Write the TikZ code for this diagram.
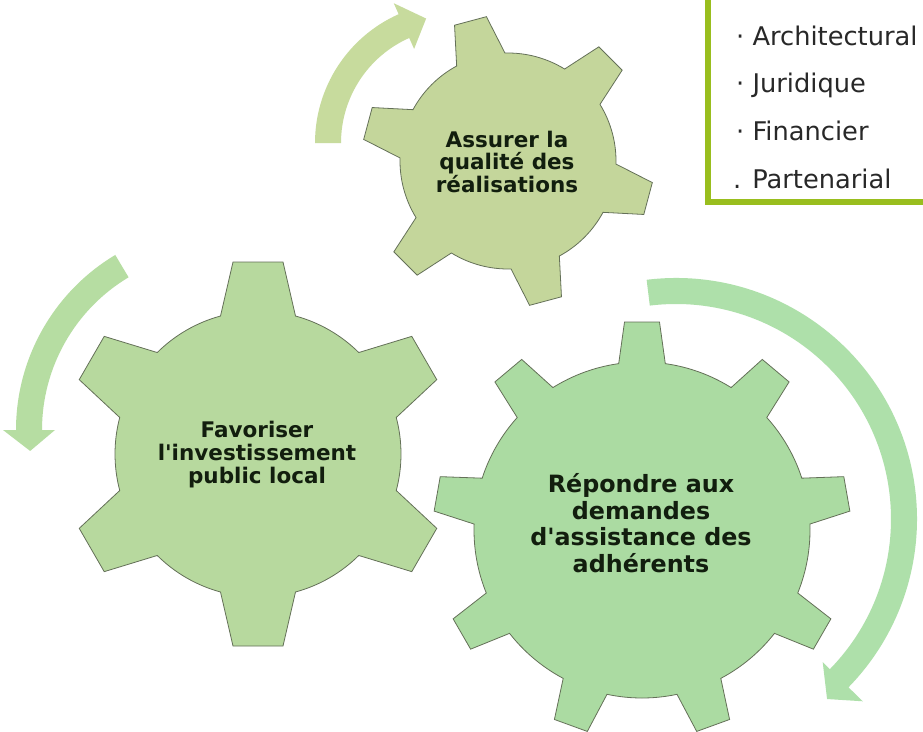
\documentclass[tikz,border=0pt]{standalone}
\usepackage{fontspec}
\newfontfamily\dvs{DejaVu Sans}
\definecolor{topgear}{RGB}{196,214,155}
\definecolor{leftgear}{RGB}{183,217,158}
\definecolor{biggear}{RGB}{171,219,162}
\definecolor{toparrow}{RGB}{199,219,157}
\definecolor{leftarrow}{RGB}{182,221,162}
\definecolor{rightarrow}{RGB}{174,224,170}
\definecolor{gearline}{RGB}{100,112,88}
\definecolor{gtext}{RGB}{18,30,14}
\definecolor{boxgreen}{RGB}{153,190,30}

\newcommand{\mygear}[9]{%
  \pgfmathsetmacro{\gstep}{360/#4}%
  \pgfmathtruncatemacro{\gnm}{#4-1}%
  \pgfmathsetmacro{\gdt}{atan(#8/#6)}%
  \pgfmathsetmacro{\gRt}{veclen(#6,#8)}%
  \pgfmathsetmacro{\gdb}{asin(#9/#7)}%
  \filldraw[gearshape, fill=#1, shift={(#2,#3)}]
    ({#5-\gdb}:#7pt)
    \foreach \k [evaluate=\k as \ga using {#5+\k*\gstep}] in {0,...,\gnm} {
      -- ({\ga-\gdt}:\gRt pt) -- ({\ga+\gdt}:\gRt pt) -- ({\ga+\gdb}:#7pt)
      arc[start angle={\ga+\gdb}, end angle={\ga+\gstep-\gdb}, radius=#7pt]
    } -- cycle;%
}

\begin{document}
\begin{tikzpicture}[x=1pt,y=1pt,
  gearshape/.style={draw=gearline, line width=0.8pt, line join=miter},
  geartext/.style={text=gtext, align=center, inner sep=0pt},
  boxtext/.style={font={\dvs\fontsize{25.7}{30}\selectfont}, text={rgb,255:red,40;green,40;blue,40}, anchor=base west, inner sep=0pt},
  boxline/.style={draw=boxgreen, line width=5.5pt}]
\useasboundingbox (0,0) rectangle (923,-731);
\fill[white] (0,0) rectangle (923,-731);

% rotation arrows
\begin{scope}[shift={(456,-143)}]
  \fill[toparrow] (180:141pt) arc[start angle=180, end angle=114, radius=141pt]
    -- (114:153pt) -- (103.5:128pt) -- (114:103pt) -- (114:115pt)
    arc[start angle=114, end angle=180, radius=115pt] -- cycle;
\end{scope}
\begin{scope}[shift={(220,-430)}]
  \fill[leftarrow] (120.9:204pt) arc[start angle=120.9, end angle=180, radius=204pt]
    -- (180:217pt) -- (186.3:191pt) -- (180:165pt) -- (180:178pt)
    arc[start angle=180, end angle=120.9, radius=178pt] -- cycle;
\end{scope}
\begin{scope}[shift={(676,-519)}]
  \fill[rightarrow] (97:241pt) arc[start angle=97, end angle=-44.3, radius=241pt]
    -- (-44.3:261pt) -- (-50:235pt) -- (-44.3:205pt) -- (-44.3:215pt)
    arc[start angle=-44.3, end angle=97, radius=215pt] -- cycle;
\end{scope}

% gears
\mygear{topgear}{508}{-161}{6}{45}{145}{108}{16.5}{25}
\mygear{leftgear}{258}{-454}{6}{90}{192}{143}{25}{37.5}
\mygear{biggear}{642}{-530}{9}{90}{208}{168}{17.5}{23.3}

% gear texts
\node[geartext, font={\dvs\bfseries\fontsize{21.5}{22.5}\selectfont}] (quality) at (507,-161.5)
  {Assurer la\\qualité des\\réalisations};
\node[geartext, font={\dvs\bfseries\fontsize{21.5}{23}\selectfont}] (invest) at (257,-454.4)
  {Favoriser\\l'investissement\\public local};
\node[geartext, font={\dvs\bfseries\fontsize{23.8}{26.7}\selectfont}] (assist) at (641,-523)
  {Répondre aux\\demandes\\d'assistance des\\adhérents};

% box
\draw[boxline] (708,10) |- (930,-202);
\node[boxtext] (b1) at (736,-45) {· Architectural};
\node[boxtext] (b2) at (736,-92) {· Juridique};
\node[boxtext] (b3) at (736,-140) {· Financier};
\node[boxtext] (b4) at (733,-188) {. Partenarial};
\end{tikzpicture}
\end{document}
